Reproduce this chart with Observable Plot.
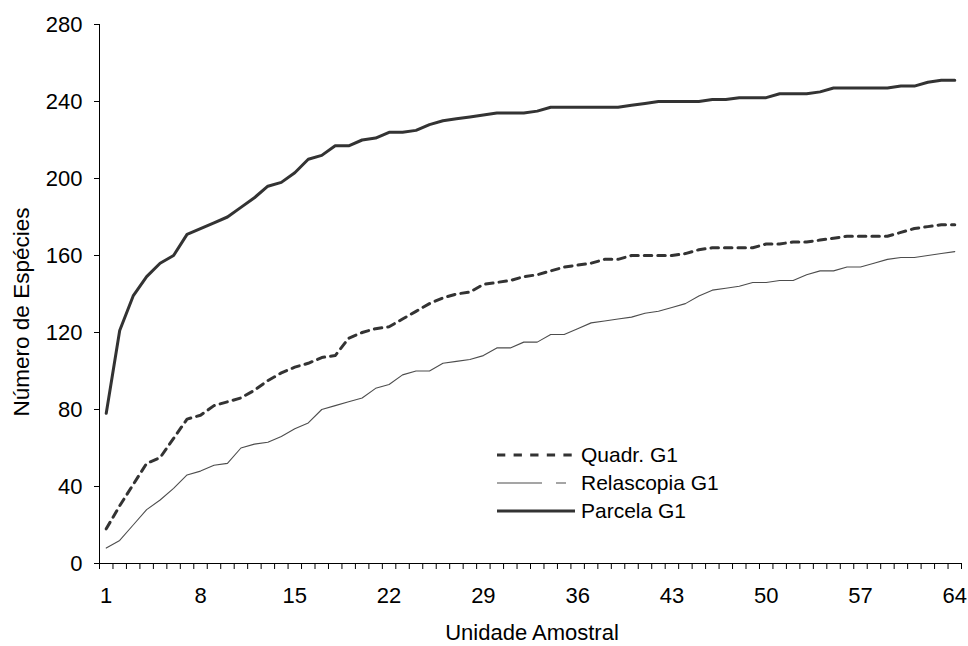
<!DOCTYPE html>
<html><head><meta charset="utf-8">
<script src="https://cdn.jsdelivr.net/npm/d3@7"></script>
<script src="https://cdn.jsdelivr.net/npm/@observablehq/plot@0.6"></script>
<style>
body{margin:0;background:#fff}
#chart svg{font-family:"Liberation Sans",Arial,sans-serif;display:block}
</style>
</head><body><div id="chart"></div>
<script>
const units = d3.range(1, 65);
const quadr = [18,30,41,52,55,65,75,77,82,84,
 86,90,95,99,102,104,107,108,117,120,
 122,123,127,131,135,138,140,141,145,146,
 147,149,150,152,154,155,156,158,158,160,
 160,160,160,161,163,164,164,164,164,166,
 166,167,167,168,169,170,170,170,170,172,
 174,175,176,176];
const relascopia = [8,12,20,28,33,39,46,48,51,52,
 60,62,63,66,70,73,80,82,84,86,
 91,93,98,100,100,104,105,106,108,112,
 112,115,115,119,119,122,125,126,127,128,
 130,131,133,135,139,142,143,144,146,146,
 147,147,150,152,152,154,154,156,158,159,
 159,160,161,162];
const parcela = [78,121,139,149,156,160,171,174,177,180,
 185,190,196,198,203,210,212,217,217,220,
 221,224,224,225,228,230,231,232,233,234,
 234,234,235,237,237,237,237,237,237,238,
 239,240,240,240,240,241,241,242,242,242,
 244,244,244,245,247,247,247,247,247,248,
 248,250,251,251];
const seriesNames = ["Quadr. G1", "Relascopia G1", "Parcela G1"];
const xTicks = [1, 8, 15, 22, 29, 36, 43, 50, 57, 64];
const yTicks = [0, 40, 80, 120, 160, 200, 240, 280];
const xTitle = "Unidade Amostral";
const yTitle = "Número de Espécies";

const boundaries = d3.range(0, 65).map(k => k + 0.5);

const plot = Plot.plot({
  width: 968,
  height: 646,
  marginLeft: 99,
  marginRight: 7,
  marginTop: 24,
  marginBottom: 83,
  style: {fontSize: "22px", fontFamily: "Liberation Sans, Arial, sans-serif", color: "#000", background: "#fff"},
  x: {domain: [0.5, 64.5]},
  y: {domain: [0, 280]},
  marks: [
    Plot.axisY(yTicks, {tickSize: 5, tickPadding: 12, label: null, stroke: "#000"}),
    Plot.axisX(boundaries, {tickSize: 6, tickFormat: () => "", label: null, stroke: "#000"}),
    Plot.axisX(xTicks, {tickSize: 0, tickPadding: 24, label: null, tickFormat: d => String(d)}),
    Plot.ruleX([0.5], {stroke: "#000", strokeWidth: 1}),
    Plot.ruleY([0], {stroke: "#000", strokeWidth: 1}),
    Plot.line(relascopia, {x: (d, i) => units[i], y: d => d, stroke: "#4d4d4d", strokeWidth: 1.1}),
    Plot.line(quadr, {x: (d, i) => units[i], y: d => d, stroke: "#333", strokeWidth: 3, strokeDasharray: "7.5,6"}),
    Plot.line(parcela, {x: (d, i) => units[i], y: d => d, stroke: "#333", strokeWidth: 3, strokeLinejoin: "round"})
  ]
});
document.getElementById("chart").appendChild(plot);

const svg = d3.select(plot);
// axis titles
svg.append("text").attr("x", 532).attr("y", 640).attr("text-anchor", "middle")
  .attr("font-size", 22).attr("fill", "#000").text(xTitle);
svg.append("text").attr("transform", "translate(29,312) rotate(-90)").attr("text-anchor", "middle")
  .attr("font-size", 22.5).attr("fill", "#000").text(yTitle);

// legend
const legendStyles = [
  {stroke: "#333", width: 3, dash: "8.3,8.3"},
  {stroke: "#4d4d4d", width: 1.1, dash: "45,14,10,100"},
  {stroke: "#333", width: 3, dash: null}
];
const legendY = [455, 483, 511];
const lg = svg.append("g");
seriesNames.forEach((name, i) => {
  const s = legendStyles[i];
  const ln = lg.append("line").attr("x1", 497).attr("x2", 575)
    .attr("y1", legendY[i]).attr("y2", legendY[i])
    .attr("stroke", s.stroke).attr("stroke-width", s.width);
  if (s.dash) ln.attr("stroke-dasharray", s.dash);
  lg.append("text").attr("x", 581).attr("y", legendY[i]).attr("dy", "0.35em")
    .attr("text-anchor", "start")
    .attr("font-size", 21).attr("fill", "#000").text(name);
});
</script>
</body></html>
